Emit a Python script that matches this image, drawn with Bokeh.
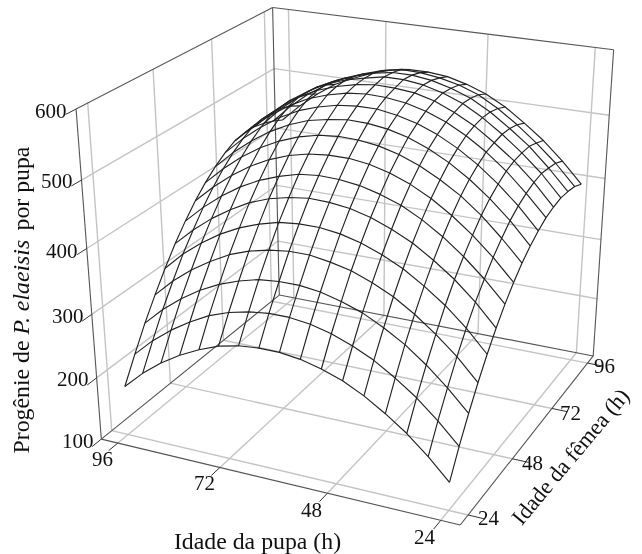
import numpy as np
from bokeh.plotting import figure
from bokeh.models import Range1d
from bokeh.core.properties import value
from bokeh.embed import file_html
from bokeh.resources import INLINE

pupa_age = [96 - 4.5 * i for i in range(17)]
female_age = [24 + 4.5 * j for j in range(17)]
pupa_ticks = [96, 72, 48, 24]
female_ticks = [24, 48, 72, 96]
z_ticks = [100, 200, 300, 400, 500, 600]
progeny = [
    [179,217,253,285,315,342,366,387,405,420,432,441,444,444,440,434,426],
    [207,245,281,313,343,369,393,414,432,447,459,468,471,471,469,463,454],
    [230,268,304,336,366,392,416,437,455,470,482,491,494,495,492,487,478],
    [249,287,323,355,385,411,435,456,474,489,501,510,514,514,512,506,498],
    [264,303,338,371,400,427,450,471,489,504,516,525,529,530,526,521,512],
    [276,314,349,382,411,438,461,482,500,515,526,535,539,540,537,532,524],
    [283,321,357,389,419,445,469,489,507,521,533,542,546,547,546,541,533],
    [286,325,360,393,422,449,472,492,510,525,536,545,550,553,551,547,538],
    [286,325,360,393,422,448,471,492,509,524,536,544,549,553,551,546,538],
    [282,321,356,388,418,444,467,488,505,520,531,540,546,549,547,542,535],
    [274,313,348,381,410,436,459,480,497,512,523,532,538,541,539,535,527],
    [263,301,337,369,398,424,448,468,485,500,511,520,525,529,528,524,516],
    [247,286,321,354,383,409,432,452,469,484,495,504,509,512,511,507,500],
    [227,266,302,334,363,389,412,432,450,464,475,484,488,491,490,486,479],
    [204,243,278,310,340,366,388,408,426,440,451,460,465,467,467,462,456],
    [176,215,250,283,312,338,360,380,397,412,423,431,437,440,438,435,428],
    [144,183,218,250,279,305,328,348,365,379,390,399,404,407,406,403,396],
]

CAM = np.array([[320.47024, 227.76856, -31.96865, 100.83976],
                [42.03408, -91.36939, -339.68753, 438.60488],
                [-0.0836, 0.17874, -0.08865, 1.0]])

def proj(x, y, z):
    h = CAM @ np.array([(100 - x) / 80, (y - 20) / 80, (z - 100) / 500, 1.0])
    return h[0] / h[2], h[1] / h[2]

p = figure(width=642, height=554, x_range=Range1d(0, 642), y_range=Range1d(554, 0),
           output_backend="svg", toolbar_location=None, min_border=0)
p.axis.visible = False
p.grid.visible = False
p.outline_line_color = None
p.styles = {"position": "fixed", "left": "0px", "top": "0px"}

def seg(c1, c2, color, w):
    a, b = proj(*c1), proj(*c2)
    p.line([a[0], b[0]], [a[1], b[1]], line_color=color, line_width=w)

GRID = "#c4c4c4"
for t in pupa_ticks:
    seg((t, 20, 100), (t, 100, 100), GRID, 1.4)
    seg((t, 100, 100), (t, 100, 600), GRID, 1.4)
for t in female_ticks:
    seg((20, t, 100), (100, t, 100), GRID, 1.4)
    seg((100, t, 100), (100, t, 600), GRID, 1.4)
for t in z_ticks[1:-1]:
    seg((100, 20, t), (100, 100, t), GRID, 1.4)
    seg((100, 100, t), (20, 100, t), GRID, 1.4)

EDGE = "#555555"
for a, b in [((100,20,100),(100,20,600)), ((100,20,600),(100,100,600)), ((100,100,600),(100,100,100)),
             ((100,100,600),(20,100,600)), ((20,100,600),(20,100,100)), ((20,100,100),(100,100,100)),
             ((100,100,100),(100,20,100)), ((100,20,100),(20,20,100)), ((20,20,100),(20,100,100))]:
    seg(a, b, EDGE, 1.1)

for t in pupa_ticks:
    seg((t, 20, 100), (t, 16.5, 100), "#333333", 1)
for t in female_ticks:
    seg((20, t, 100), (16.5, t, 100), "#333333", 1)
for t in z_ticks:
    seg((100, 20, t), (100, 16.5, t), "#333333", 1)

MESH = "#222222"
for i in range(17):
    q = [proj(pupa_age[i], female_age[j], progeny[i][j]) for j in range(17)]
    p.line([a for a, b in q], [b for a, b in q], line_color=MESH, line_width=1.15)
for j in range(17):
    q = [proj(pupa_age[i], female_age[j], progeny[i][j]) for i in range(17)]
    p.line([a for a, b in q], [b for a, b in q], line_color=MESH, line_width=1.15)

SERIF = value("Liberation Serif")
def label(x, y, s, size, align="center", base="middle", angle=0.0, style="normal"):
    p.text([x], [y], text=[s], text_font=SERIF, text_font_size=size, text_align=align,
           text_baseline=base, angle=angle, text_font_style=style, text_color="#111111")

for t, (x, y) in zip(z_ticks, [(93, 440), (88, 378), (83, 315), (77, 250), (72, 180), (66, 110)]):
    label(x, y, str(t), "21px", align="right")
for t, (x, y) in zip(pupa_ticks, [(102, 458), (204, 482), (311, 509), (424, 536)]):
    label(x, y, str(t), "21px")
for t, (x, y) in zip(female_ticks, [(488, 517), (532, 462), (570, 412), (604, 365)]):
    label(x, y, str(t), "21px")

label(257, 540, "Idade da pupa (h)", "23.8px")
label(570, 456, "Idade da fêmea (h)", "22.5px", angle=np.radians(50))
V = np.pi / 2
label(20, 453, "Progênie de", "23.8px", align="left", base="alphabetic", angle=V)
label(20, 334, "P. elaeisis", "23.8px", align="left", base="alphabetic", angle=V, style="italic")
label(20, 230, "por pupa", "23.8px", align="left", base="alphabetic", angle=V)

open("out.html", "w").write(file_html(p, INLINE))
